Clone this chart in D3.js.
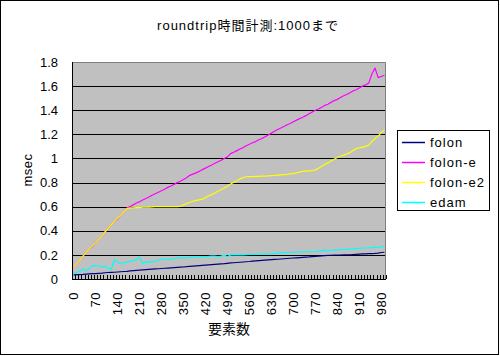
<!DOCTYPE html>
<html><head><meta charset="utf-8">
<script src="https://cdn.jsdelivr.net/npm/d3@7"></script>
<style>body{margin:0;background:#fff}svg{display:block}text{font-family:"Liberation Sans","Noto Sans CJK JP",sans-serif}</style>
</head><body><div id="c"></div>
<script>
const categories = d3.range(0, 1000, 10);
const xTickLabels = [0,70,140,210,280,350,420,490,560,630,700,770,840,910,980];
const yTickValues = [0,0.2,0.4,0.6,0.8,1,1.2,1.4,1.6,1.8];
const yTickLabels = ["0","0.2","0.4","0.6","0.8","1","1.2","1.4","1.6","1.8"];
const seriesNames = ["folon","folon-e","folon-e2","edam"];
const seriesColors = ["#000080","#FF00FF","#FFFF00","#00FFFF"];

const folon = [0.035,0.036,0.037,0.038,0.04,0.042,0.044,0.045,0.047,0.049,
0.052,0.054,0.055,0.056,0.058,0.06,0.062,0.064,0.067,0.07,
0.072,0.074,0.076,0.078,0.08,0.082,0.084,0.085,0.087,0.089,
0.091,0.093,0.095,0.097,0.099,0.1,0.102,0.105,0.107,0.109,
0.111,0.113,0.115,0.117,0.119,0.121,0.123,0.125,0.127,0.13,
0.133,0.135,0.137,0.139,0.141,0.143,0.145,0.148,0.15,0.152,
0.154,0.156,0.158,0.16,0.162,0.164,0.166,0.168,0.17,0.172,
0.174,0.176,0.178,0.18,0.182,0.183,0.185,0.187,0.19,0.192,
0.194,0.196,0.197,0.198,0.198,0.199,0.2,0.2,0.201,0.203,
0.205,0.207,0.208,0.209,0.21,0.211,0.212,0.214,0.22,0.222];

const folonE = [0.1,0.13,0.16,0.19,0.22,0.25,0.27,0.3,0.33,0.36,
0.39,0.42,0.45,0.48,0.5,0.53,0.56,0.59,
0.6,0.615,0.63,0.64,0.655,0.668,0.68,0.695,0.707,0.72,0.732,0.745,0.76,0.772,0.785,0.8,0.81,0.825,0.84,0.86,0.87,0.88,0.893,0.907,0.92,0.933,0.945,0.96,0.972,0.985,1.0,1.013,
1.04,1.052,1.065,1.078,1.09,1.105,1.118,1.13,1.14,1.155,
1.165,1.18,1.195,1.21,1.225,1.24,1.252,1.265,1.28,1.29,
1.305,1.318,1.33,1.342,1.355,1.37,1.385,1.4,1.41,1.425,
1.44,1.45,1.465,1.48,1.49,1.505,1.52,1.53,1.545,1.56,
1.57,1.585,1.6,1.61,1.625,1.7,1.75,1.67,1.68,1.69];

const folonE2 = [0.1,0.13,0.16,0.19,0.22,0.25,0.275,0.3,0.33,0.36,
0.39,0.42,0.45,0.48,0.505,0.53,0.56,0.585,
0.59,0.59,0.592,0.592,0.595,0.595,0.597,0.598,0.6,0.6,0.6,0.6,0.6,0.6,0.6,0.6,0.602,
0.615,0.625,0.635,0.645,0.652,0.657,0.662,0.675,0.688,0.7,
0.714,0.728,0.741,0.755,0.77,0.788,0.8,0.815,0.83,0.842,
0.848,0.849,0.85,0.851,0.852,0.853,0.854,0.855,0.857,0.859,
0.862,0.864,0.866,0.868,0.872,0.876,0.88,0.886,0.892,0.895,
0.897,0.898,0.905,0.918,0.935,0.95,0.963,0.978,0.994,1.008,
1.018,1.028,1.038,1.048,1.065,1.08,1.088,1.094,1.1,1.11,
1.14,1.165,1.185,1.215,1.235];

const edam = [0.05,0.055,0.065,0.083,0.07,0.085,0.11,0.112,0.11,0.1,
0.105,0.09,0.077,0.16,0.14,0.127,0.135,0.14,0.145,0.152,
0.16,0.182,0.127,0.14,0.142,0.14,0.145,0.155,0.168,0.16,
0.162,0.165,0.17,0.177,0.176,0.175,0.178,0.18,0.18,0.182,
0.183,0.185,0.185,0.187,0.19,0.19,0.186,0.19,0.198,0.185,
0.2,0.2,0.2,0.2,0.2,0.202,0.204,0.205,0.205,0.206,
0.206,0.207,0.208,0.21,0.21,0.214,0.215,0.22,0.218,0.22,
0.222,0.224,0.224,0.225,0.226,0.226,0.228,0.23,0.232,0.235,
0.237,0.235,0.237,0.24,0.242,0.244,0.245,0.247,0.25,0.25,
0.252,0.254,0.255,0.257,0.258,0.26,0.262,0.264,0.266,0.27];

const seriesValues = [folon, folonE, folonE2, edam];

const W = 500, H = 356;
const L = 72, R = 386, T = 62, B = 279;

const svg = d3.select("#c").append("svg").attr("width", W).attr("height", H);
svg.append("rect").attr("x",0).attr("y",0).attr("width",W).attr("height",H).attr("fill","#fff");
svg.append("rect").attr("x",0.5).attr("y",0.5).attr("width",498).attr("height",354)
  .attr("fill","none").attr("stroke","#000").attr("stroke-width",1);

svg.append("text").attr("x",248).attr("y",29.5).attr("text-anchor","middle")
  .attr("font-size",13).attr("letter-spacing",1).text("roundtrip時間計測:1000まで");

const x = d3.scaleBand().domain(categories).range([L, R]).padding(0);
const y = d3.scaleLinear().domain([0, 1.8]).range([B, T]);

// plot background
svg.append("rect").attr("x",L).attr("y",T).attr("width",R-L).attr("height",B-T).attr("fill","#C0C0C0");

// gridlines
svg.append("g").selectAll("line").data(yTickValues.filter(v => v > 0 && v < 1.8)).join("line")
  .attr("x1",L).attr("x2",R).attr("y1",d => Math.round(y(d))+0.5).attr("y2",d => Math.round(y(d))+0.5)
  .attr("stroke","#000").attr("stroke-width",1);

// top & right border grey
svg.append("path").attr("d",`M${L},${T+0.5}H${R-0.5}V${B}`).attr("fill","none").attr("stroke","#808080").attr("stroke-width",1);

// series lines
const line = d3.line().x((d,i) => x(categories[i]) + x.bandwidth()/2).y(d => y(d));
seriesValues.forEach((vals, k) => {
  svg.append("path").datum(vals).attr("d", line).attr("fill","none")
    .attr("stroke", seriesColors[k]).attr("stroke-width",1.2).attr("stroke-linejoin","round");
});

// axes lines
svg.append("line").attr("x1",L+0.5).attr("x2",L+0.5).attr("y1",T).attr("y2",B+1).attr("stroke","#000");
svg.append("line").attr("x1",L).attr("x2",R).attr("y1",B+0.5).attr("y2",B+0.5).attr("stroke","#000");

// category tick marks (inside, at band boundaries)
const tickPos = categories.map(c => x(c)).concat([R]);
svg.append("g").selectAll("line").data(tickPos).join("line")
  .attr("x1",d => Math.round(d)+0.5).attr("x2",d => Math.round(d)+0.5)
  .attr("y1",B).attr("y2",B-4).attr("stroke","#000").attr("stroke-width",1);

// y axis labels
const yAxis = d3.axisLeft(y).tickValues(yTickValues).tickSize(0).tickPadding(14)
  .tickFormat((d,i) => yTickLabels[i]);
const gy = svg.append("g").attr("transform",`translate(${L},0)`).call(yAxis);
gy.select(".domain").remove();
gy.selectAll("text").attr("font-size",13).attr("fill","#000").attr("font-family",null);

// x axis labels (rotated)
const gx = svg.append("g");
gx.selectAll("text").data(xTickLabels).join("text")
  .attr("transform", d => `translate(${x(d) + x.bandwidth()/2},292) rotate(-90)`)
  .attr("text-anchor","end").attr("dy","0.36em").attr("font-size",13).attr("letter-spacing",0.5)
  .text(d => String(d));

// axis titles
svg.append("text").attr("x",229).attr("y",334).attr("text-anchor","middle").attr("font-size",14).text("要素数");
svg.append("text").attr("transform","translate(32,170) rotate(-90)").attr("text-anchor","middle")
  .attr("font-size",13).attr("letter-spacing",0.5).text("msec");

// legend
const lg = svg.append("g");
lg.append("rect").attr("x",397.5).attr("y",130.5).attr("width",92).attr("height",80)
  .attr("fill","#fff").attr("stroke","#000").attr("stroke-width",1);
seriesNames.forEach((n, k) => {
  const yy = 142 + k*20;
  lg.append("line").attr("x1",402).attr("x2",425).attr("y1",yy+0.5).attr("y2",yy+0.5)
    .attr("stroke",seriesColors[k]).attr("stroke-width",1.5);
  lg.append("text").attr("x",430).attr("y",yy+5).attr("font-size",13).attr("letter-spacing",1).text(n);
});
</script>
</body></html>
